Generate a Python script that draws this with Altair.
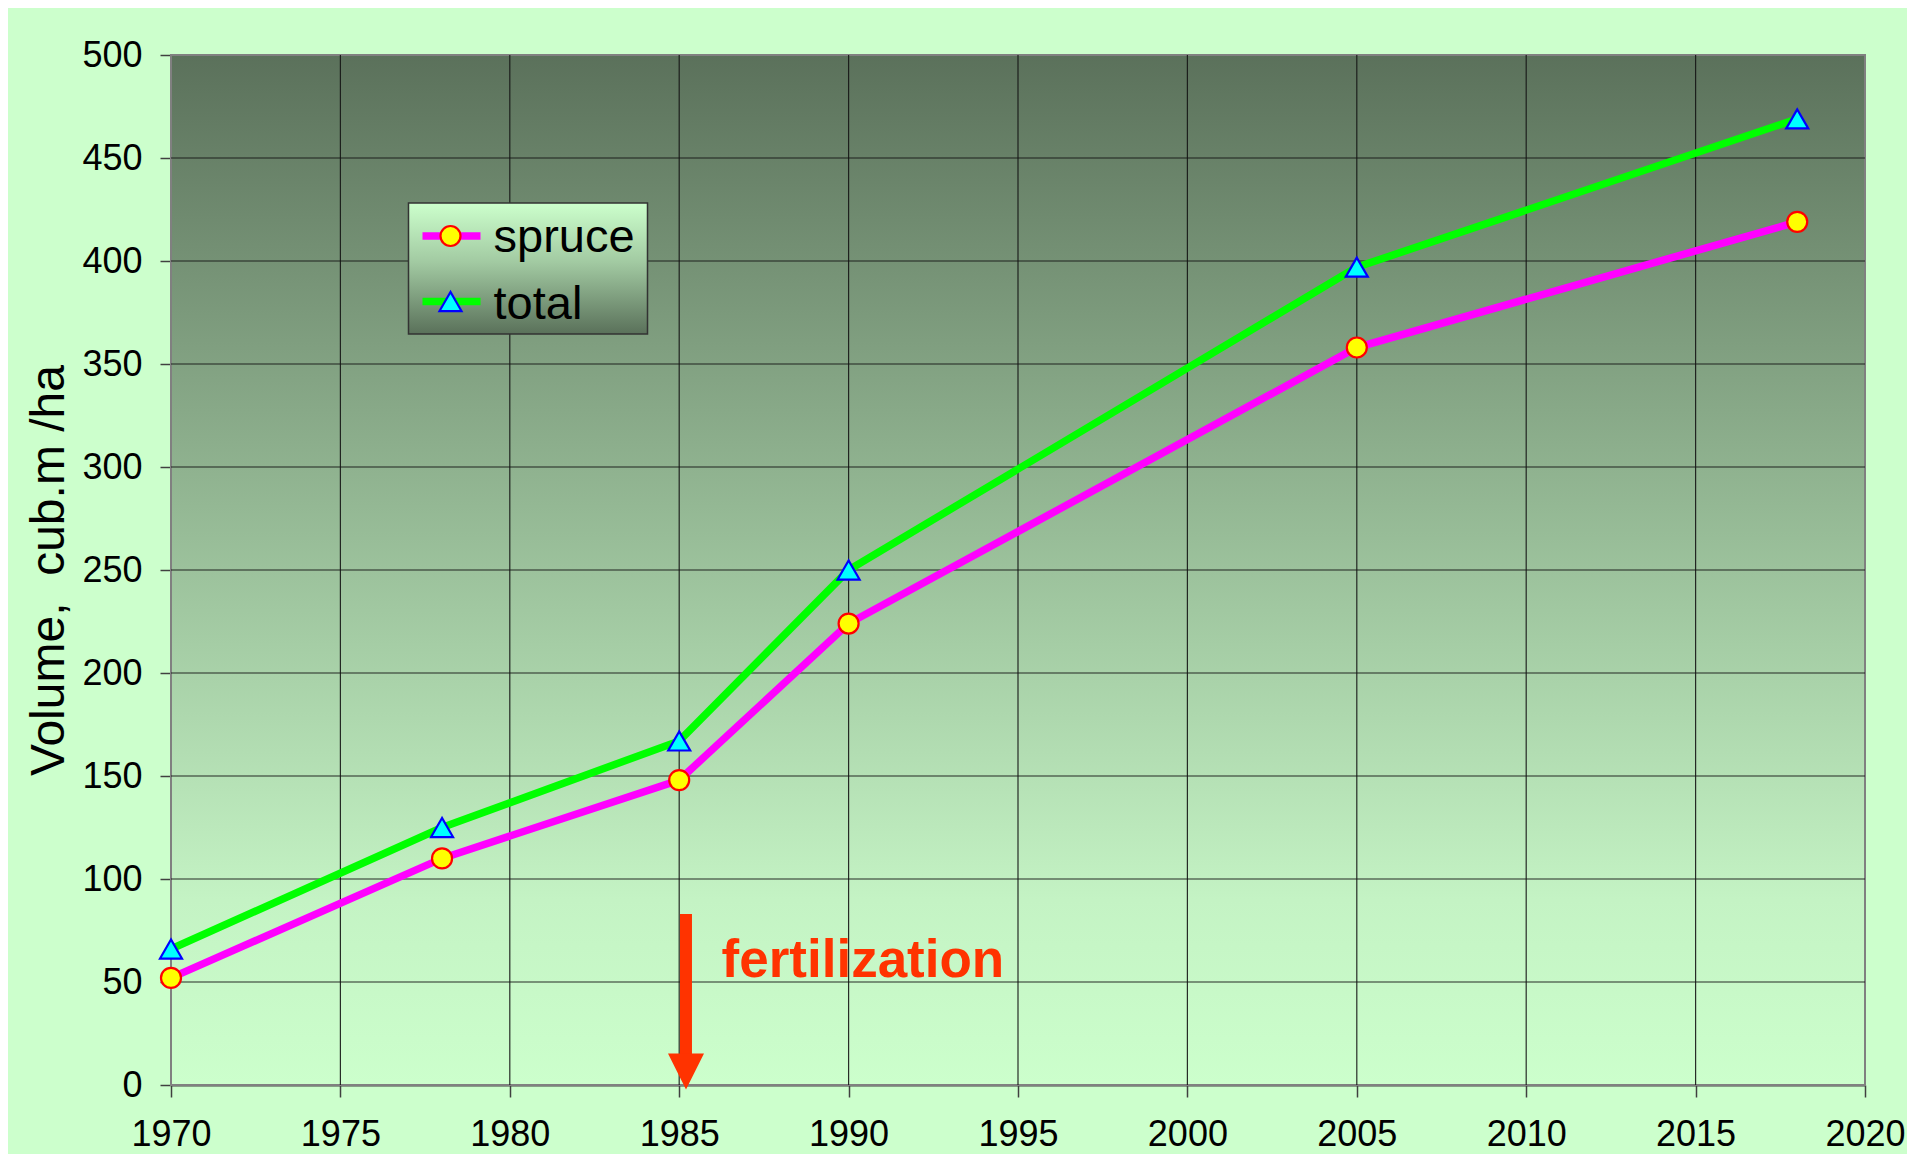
import altair as alt
import pandas as pd

# ---------------- data ----------------
years = [1970, 1978, 1985, 1990, 2005, 2018]
spruce = [52, 110, 148, 224, 358, 419]
total = [66, 125, 167, 250, 397, 469]
series_names = ["spruce", "total"]
series_colors = ["#FF00FF", "#00FF00"]

x_ticks = [1970, 1975, 1980, 1985, 1990, 1995, 2000, 2005, 2010, 2015, 2020]
y_ticks = [0, 50, 100, 150, 200, 250, 300, 350, 400, 450, 500]
x_grid = x_ticks[1:-1]
y_grid = y_ticks[1:-1]

arrow_year = [1985.2]
arrow_top = [83]
arrow_shaft_end = [12]
arrow_head = [6.5]
note_year = [1986.25]
note_value = [52.4]
note_text = ["fertilization"]

y_title = "Volume,\u00a0\u00a0cub.m /ha"

# ---------------- layout ----------------
W, H = 1694, 1030
FONT = "Liberation Sans"

xs = alt.Scale(domain=[1970, 2020], nice=False, zero=False)
ys = alt.Scale(domain=[0, 500], nice=False, zero=False)

x_axis = alt.Axis(values=x_ticks, format="d", grid=False, domainColor="#404040",
                  domainWidth=2, tickColor="#404040", tickWidth=1.5, tickSize=12,
                  labelFont=FONT, labelFontSize=36, labelColor="black",
                  labelPadding=20, labelFlush=False, labelOverlap=False, title=None)
y_axis = alt.Axis(values=y_ticks, grid=False, domainColor="#404040",
                  domainWidth=2, tickColor="#404040", tickWidth=1.5, tickSize=11,
                  labelFont=FONT, labelFontSize=36, labelColor="black",
                  labelPadding=18, labelFlush=False, labelOverlap=False,
                  title=y_title, titleFont=FONT, titleFontSize=48,
                  titleFontWeight="normal", titleColor="black", titlePadding=8)

def X(field):
    return alt.X(f"{field}:Q", scale=xs, axis=x_axis)

def Y(field):
    return alt.Y(f"{field}:Q", scale=ys, axis=y_axis)

one = pd.DataFrame({"k": [0]})

plot_grad = alt.LinearGradient(
    gradient="linear", x1=0, x2=0, y1=0, y2=1,
    stops=[alt.GradientStop(offset=0, color="#5B715B"),
           alt.GradientStop(offset=0.5, color="#9CC29C"),
           alt.GradientStop(offset=0.82, color="#C4F3C4"),
           alt.GradientStop(offset=1, color="#CCFFCC")])

legend_grad = alt.LinearGradient(
    gradient="linear", x1=0, x2=0, y1=0, y2=1,
    stops=[alt.GradientStop(offset=0, color="#CCFFCC"),
           alt.GradientStop(offset=0.45, color="#A2CAA2"),
           alt.GradientStop(offset=1, color="#5A715A")])

bg = alt.Chart(one).mark_rect(fill=plot_grad, stroke="#808080", strokeWidth=2).encode(
    x=alt.value(0), x2=alt.value(W), y=alt.value(0), y2=alt.value(H))

vgrid = alt.Chart(pd.DataFrame({"gx": x_grid})).mark_rule(
    color="#151515", strokeWidth=1.2, opacity=0.9).encode(x=X("gx"))
hgrid = alt.Chart(pd.DataFrame({"gy": y_grid})).mark_rule(
    color="#151515", strokeWidth=1.2, opacity=0.9).encode(y=Y("gy"))

df = pd.DataFrame({
    "year": years * 2,
    "value": spruce + total,
    "series": [series_names[0]] * len(years) + [series_names[1]] * len(years),
})
color_scale = alt.Scale(domain=series_names, range=series_colors)

lines = alt.Chart(df).mark_line(strokeWidth=7.5).encode(
    x=X("year"), y=Y("value"),
    color=alt.Color("series:N", scale=color_scale, legend=None))

df_s = pd.DataFrame({"year": years, "value": spruce})
df_t = pd.DataFrame({"year": years, "value": total})
pts_s = alt.Chart(df_s).mark_point(shape="circle", filled=True, fill="#FFFF00",
                                   stroke="#FF0000", strokeWidth=2.2, size=400,
                                   opacity=1).encode(x=X("year"), y=Y("value"))
pts_t = alt.Chart(df_t).mark_point(shape="triangle-up", filled=True, fill="#00FFFF",
                                   stroke="#0000FF", strokeWidth=2.2, size=484,
                                   opacity=1).encode(x=X("year"), y=Y("value"))

arrow_df = pd.DataFrame({"ax": arrow_year, "ay": arrow_top, "ay2": arrow_shaft_end,
                         "ah": arrow_head})
shaft = alt.Chart(arrow_df).mark_rule(color="#FF3300", strokeWidth=12, strokeCap="butt").encode(
    x=X("ax"), y=Y("ay"), y2="ay2:Q")
head = alt.Chart(arrow_df).mark_point(shape="M-1,-1L1,-1L0,1Z", filled=True,
                                      fill="#FF3300", strokeWidth=0, size=1296,
                                      opacity=1).encode(x=X("ax"), y=Y("ah"))
note_df = pd.DataFrame({"nx": note_year, "ny": note_value, "t": note_text})
note = alt.Chart(note_df).mark_text(font=FONT, fontSize=53, fontWeight="bold",
                                    color="#FF3300", align="left",
                                    baseline="alphabetic").encode(
    x=X("nx"), y=Y("ny"), text="t:N")

# ---------------- legend (drawn) ----------------
leg_box = alt.Chart(one).mark_rect(fill=legend_grad, stroke="#333333", strokeWidth=1.5).encode(
    x=alt.value(237.5), x2=alt.value(476.5), y=alt.value(148), y2=alt.value(279))
leg_line_s = alt.Chart(one).mark_rule(color=series_colors[0], strokeWidth=7.5).encode(
    x=alt.value(251.5), x2=alt.value(309.5), y=alt.value(181))
leg_line_t = alt.Chart(one).mark_rule(color=series_colors[1], strokeWidth=7.5).encode(
    x=alt.value(251.5), x2=alt.value(309.5), y=alt.value(246.5))
leg_pt_s = alt.Chart(one).mark_point(shape="circle", filled=True, fill="#FFFF00",
                                     stroke="#FF0000", strokeWidth=2.2, size=400,
                                     opacity=1).encode(x=alt.value(279.5), y=alt.value(181))
leg_pt_t = alt.Chart(one).mark_point(shape="triangle-up", filled=True, fill="#00FFFF",
                                     stroke="#0000FF", strokeWidth=2.2, size=484,
                                     opacity=1).encode(x=alt.value(279.5), y=alt.value(246.5))
leg_txt_s = alt.Chart(one).mark_text(font=FONT, fontSize=47, color="black", align="left",
                                     baseline="alphabetic", text=series_names[0]).encode(
    x=alt.value(322.5), y=alt.value(197))
leg_txt_t = alt.Chart(one).mark_text(font=FONT, fontSize=47, color="black", align="left",
                                     baseline="alphabetic", text=series_names[1]).encode(
    x=alt.value(322.5), y=alt.value(264))

chart = alt.layer(
    bg, vgrid, hgrid, shaft, head, note, lines, pts_s, pts_t,
    leg_box, leg_line_s, leg_line_t, leg_pt_s, leg_pt_t, leg_txt_s, leg_txt_t
).properties(
    width=W, height=H,
    autosize=alt.AutoSizeParams(type="none"),
    padding={"left": 163, "top": 47, "right": 42, "bottom": 69},
).configure(background="#CCFFCC").configure_view(strokeWidth=0)

chart.save("out.html", embed_options={"renderer": "svg", "actions": False})
